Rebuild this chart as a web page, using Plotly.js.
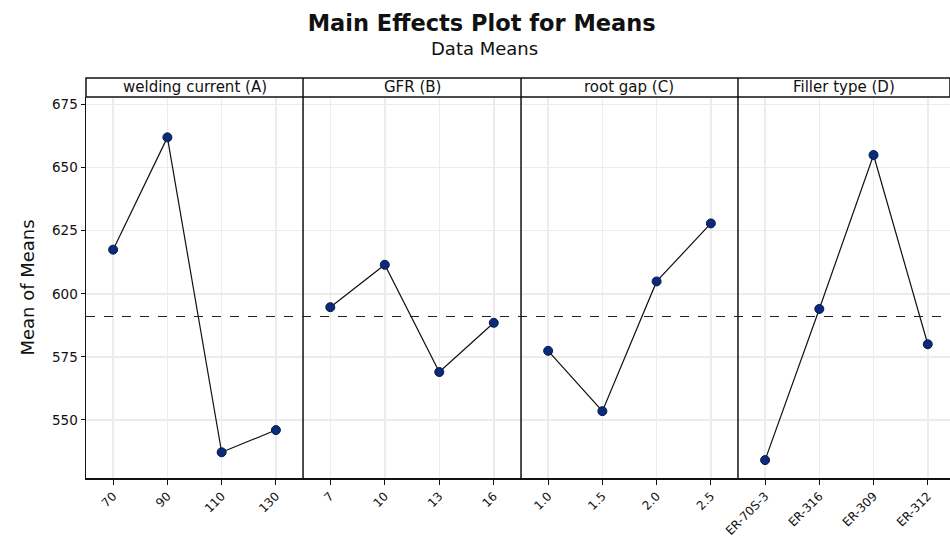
<!DOCTYPE html>
<html>
<head>
<meta charset="utf-8">
<script src="https://cdn.plot.ly/plotly-3.0.1.min.js"></script>
<style>html,body{margin:0;padding:0;background:#fff}#chart{width:950px;height:539px}</style>
</head>
<body>
<div id="chart"></div>
<script>
const factorNames = ["welding current (A)", "GFR (B)", "root gap (C)", "Filler type (D)"];
const levelsA = ["70", "90", "110", "130"];
const levelsB = ["7", "10", "13", "16"];
const levelsC = ["1.0", "1.5", "2.0", "2.5"];
const levelsD = ["ER-70S-3", "ER-316", "ER-309", "ER-312"];
const meansA = [617.5, 662, 537.2, 546];
const meansB = [594.7, 611.5, 569, 588.5];
const meansC = [577.4, 553.5, 604.9, 627.9];
const meansD = [534.1, 594, 655, 580];
const grandMean = 591;
const yTicks = [550, 575, 600, 625, 650, 675];

const levels = [levelsA, levelsB, levelsC, levelsD];
const means = [meansA, meansB, meansC, meansD];
const domains = [[0, 0.2512], [0.2512, 0.5035], [0.5035, 0.7546], [0.7546, 1]];
const font = "DejaVu Sans, sans-serif";

const traces = levels.map((lv, i) => ({
  type: "scatter", mode: "lines+markers",
  x: lv, y: means[i],
  xaxis: i === 0 ? "x" : "x" + (i + 1), yaxis: "y",
  line: {color: "#111", width: 1.2},
  marker: {size: 9, color: "#0a2a7a", line: {color: "#061a4a", width: 1}},
  hoverinfo: "x+y", showlegend: false
}));

const layout = {
  width: 950, height: 539,
  margin: {l: 86, r: 0, t: 97, b: 61},
  paper_bgcolor: "#fff", plot_bgcolor: "#fff",
  font: {family: font, color: "#111"},
  showlegend: false,
  title: {text: "Main Effects Plot for Means", x: 0.507, xanchor: "center", y: 0.958, yanchor: "middle",
          font: {size: 22.5, family: font, weight: "bold", color: "#111"}},
  yaxis: {
    range: [527, 678], tickvals: yTicks, ticks: "outside", ticklen: 4, tickcolor: "#111",
    showline: true, linecolor: "#111", linewidth: 1.5, showgrid: true, gridcolor: "#ececec", gridwidth: 1.5,
    zeroline: false, tickfont: {size: 13.5, family: font, color: "#111"},
    title: {text: "Mean of Means", font: {size: 18, family: font, color: "#111"}, standoff: 12}
  },
  shapes: [],
  annotations: [
    {text: "Data Means", xref: "paper", yref: "paper", x: 0.5, y: 1.128, xanchor: "center", yanchor: "middle",
     showarrow: false, font: {size: 18, family: font, color: "#111"}, xshift: -34}
  ]
};

domains.forEach((d, i) => {
  const key = i === 0 ? "xaxis" : "xaxis" + (i + 1);
  layout[key] = {
    domain: d, type: "category", categoryorder: "array", categoryarray: levels[i],
    range: i === 3 ? [-0.5, 3.41] : [-0.5, 3.5],
    anchor: "y", ticks: "outside", ticklen: 5, tickcolor: "#111", tickangle: -45,
    showline: true, linecolor: "#111", linewidth: 1.5,
    showgrid: true, gridcolor: "#ececec", gridwidth: 1.5, zeroline: false,
    tickfont: {size: 12, family: font, color: "#111"}
  };
  if (i > 0) {
    layout.shapes.push({type: "line", xref: "paper", yref: "paper", x0: d[0], x1: d[0], y0: 0, y1: 1.05,
      line: {color: "#111", width: 1.5}});
  }
  layout.annotations.push({text: factorNames[i], xref: "paper", yref: "paper",
    x: (d[0] + d[1]) / 2, y: 1.025, xanchor: "center", yanchor: "middle", showarrow: false,
    font: {size: 15, family: font, color: "#111"}});
});
layout.shapes.push({type: "rect", xref: "paper", yref: "paper", x0: 0, x1: 1.0, y0: 1.0, y1: 1.05,
  line: {color: "#111", width: 1.5}, fillcolor: "rgba(0,0,0,0)"});
layout.shapes.push({type: "line", xref: "paper", yref: "y", x0: 0, x1: 1, y0: grandMean, y1: grandMean,
  line: {color: "#222", width: 1.2, dash: "dash"}});

Plotly.newPlot("chart", traces, layout, {displayModeBar: false, staticPlot: true});
</script>
</body>
</html>
